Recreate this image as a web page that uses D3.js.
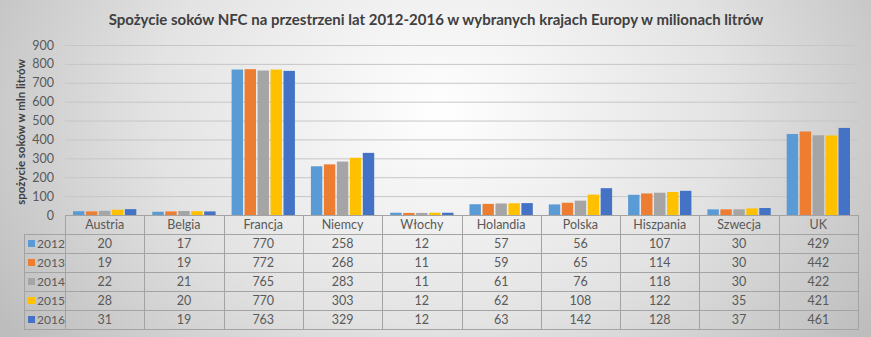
<!DOCTYPE html>
<html><head><meta charset="utf-8">
<script src="https://cdn.jsdelivr.net/npm/d3@7"></script>
<style>body{margin:0;background:#fff}svg{display:block}</style>
</head><body>
<svg id="c" width="871" height="337"></svg>
<script>
const categories = ["Austria","Belgia","Francja","Niemcy","Włochy","Holandia","Polska","Hiszpania","Szwecja","UK"];
const years = ["2012","2013","2014","2015","2016"];
const v2012 = [20,17,770,258,12,57,56,107,30,429];
const v2013 = [19,19,772,268,11,59,65,114,30,442];
const v2014 = [22,21,765,283,11,61,76,118,30,422];
const v2015 = [28,20,770,303,12,62,108,122,35,421];
const v2016 = [31,19,763,329,12,63,142,128,37,461];
const yTicks = [0,100,200,300,400,500,600,700,800,900];
const colors = ["#5B9BD5","#ED7D31","#A5A5A5","#FFC000","#4472C4"];
const series = [v2012,v2013,v2014,v2015,v2016];
const title = "Spożycie soków NFC na przestrzeni lat 2012-2016 w wybranych krajach Europy w milionach litrów";
const yLabel = "spożycie soków w mln litrów";

const svg = d3.select("#c");
const W = 871, H = 337;
const defs = svg.append("defs");
const rg = defs.append("radialGradient").attr("id","bg")
  .attr("gradientUnits","userSpaceOnUse").attr("cx",440).attr("cy",110).attr("r",520)
  .attr("gradientTransform","translate(440,110) scale(1,0.75) translate(-440,-110)");
rg.append("stop").attr("offset","0").attr("stop-color","#ffffff");
rg.append("stop").attr("offset","0.55").attr("stop-color","#e3e3e3");
rg.append("stop").attr("offset","1").attr("stop-color","#bdbdbd");
svg.append("rect").attr("width",W).attr("height",H).attr("fill","url(#bg)");

const font = "Lato, 'Open Sans', sans-serif";
const pLeft = 65, pRight = 858, pTop = 45, pBase = 215;
const x = d3.scaleBand().domain(categories).range([pLeft,pRight]).padding(0);
const y = d3.scaleLinear().domain([0,900]).range([pBase,pTop]);
const xs = d3.scaleBand().domain(years).range([8, x.bandwidth()-8]).paddingInner(0.12);

svg.append("text").attr("x",436).attr("y",25).attr("text-anchor","middle")
  .attr("font-family",font).attr("font-weight","bold").attr("font-size",15)
  .attr("fill","#404040").text(title);

svg.append("text").attr("transform","translate(25,132) rotate(-90)").attr("text-anchor","middle")
  .attr("font-family",font).attr("font-weight","bold").attr("font-size",11.5)
  .attr("fill","#404040").text(yLabel);

const yAxis = d3.axisLeft(y).tickValues(yTicks).tickSize(-(pRight-pLeft)).tickPadding(11);
const gy = svg.append("g").attr("transform",`translate(${pLeft},0)`).call(yAxis);
gy.select(".domain").remove();
gy.selectAll(".tick line").attr("stroke","#c6c6c6").attr("stroke-width",1);
gy.selectAll(".tick text").attr("font-family",font).attr("font-size",12.5).attr("fill","#595959");

const gb = svg.append("g");
series.forEach((s,i)=>{
  gb.selectAll(null).data(categories).enter().append("rect")
    .attr("x",d=>x(d)+xs(years[i]))
    .attr("width",xs.bandwidth())
    .attr("y",(d,j)=>y(s[j]))
    .attr("height",(d,j)=>pBase-y(s[j]))
    .attr("fill",colors[i]);
});

const rowH = 19;
const rowTop = pBase + rowH;
const tableBottom = rowTop + rowH*years.length;
const legLeft = 24;
const lineC = "#a3a3a3";
const tfs = 12.5;
const gt = svg.append("g");
gt.append("line").attr("x1",pLeft).attr("x2",pRight).attr("y1",pBase+0.5).attr("y2",pBase+0.5).attr("stroke",lineC);
gt.selectAll(null).data(categories).enter().append("text")
  .attr("x",d=>x(d)+x.bandwidth()/2).attr("y",pBase+14).attr("text-anchor","middle")
  .attr("font-family",font).attr("font-size",tfs).attr("fill","#595959").text(d=>d);
const vx = categories.map(d=>x(d)).concat([pRight]);
gt.selectAll(null).data(vx).enter().append("line")
  .attr("x1",d=>Math.round(d)+0.5).attr("x2",d=>Math.round(d)+0.5)
  .attr("y1",pBase).attr("y2",tableBottom).attr("stroke",lineC);
gt.append("line").attr("x1",legLeft+0.5).attr("x2",legLeft+0.5).attr("y1",rowTop).attr("y2",tableBottom).attr("stroke",lineC);
d3.range(years.length+1).forEach(k=>{
  gt.append("line").attr("x1",legLeft).attr("x2",pRight+0.5)
    .attr("y1",rowTop+k*rowH+0.5).attr("y2",rowTop+k*rowH+0.5).attr("stroke",lineC);
});
years.forEach((yr,i)=>{
  const cy = rowTop + i*rowH;
  gt.append("rect").attr("x",28).attr("y",cy+6).attr("width",7).attr("height",7).attr("fill",colors[i]);
  gt.append("text").attr("x",37).attr("y",cy+14).attr("font-family",font).attr("font-size",12)
    .attr("fill","#595959").text(yr);
  gt.selectAll(null).data(categories).enter().append("text")
    .attr("x",d=>x(d)+x.bandwidth()/2).attr("y",cy+14).attr("text-anchor","middle")
    .attr("font-family",font).attr("font-size",tfs).attr("fill","#595959")
    .text((d,j)=>series[i][j]);
});
</script>
</body></html>
